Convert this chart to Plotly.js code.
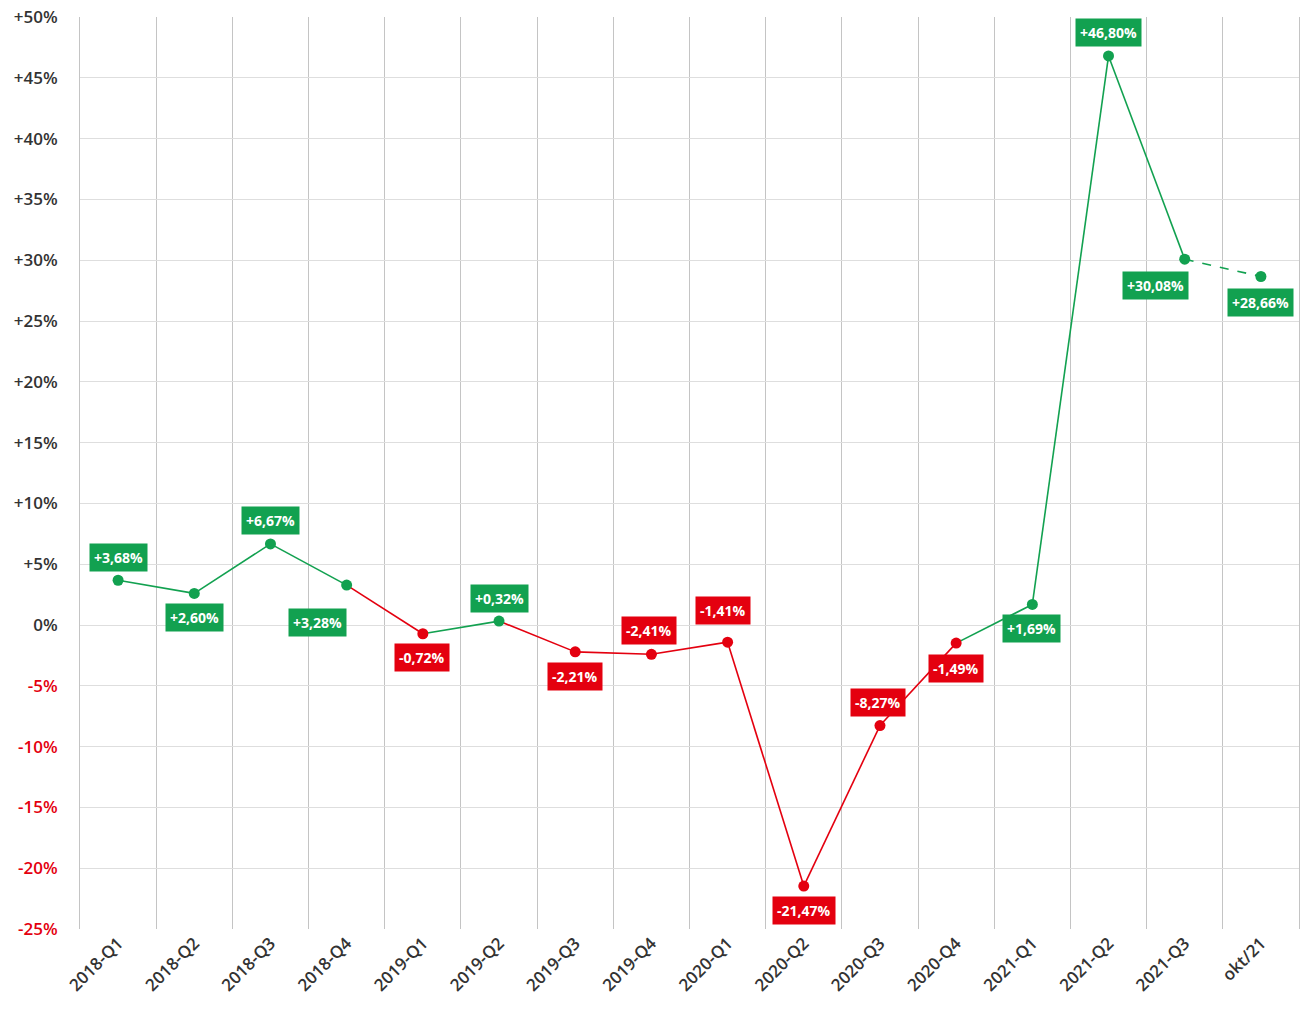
<!DOCTYPE html>
<html>
<head>
<meta charset="utf-8">
<script src="https://cdn.plot.ly/plotly-3.0.1.min.js"></script>
<style>html,body{margin:0;padding:0;background:#fff;}#chart{width:1301px;height:1012px;}</style>
</head>
<body>
<div id="chart"></div>
<script>
// ---- data ----
const periods = ["2018-Q1","2018-Q2","2018-Q3","2018-Q4","2019-Q1","2019-Q2","2019-Q3","2019-Q4","2020-Q1","2020-Q2","2020-Q3","2020-Q4","2021-Q1","2021-Q2","2021-Q3","okt/21"];
const changePct = [3.68, 2.60, 6.67, 3.28, -0.72, 0.32, -2.21, -2.41, -1.41, -21.47, -8.27, -1.49, 1.69, 46.80, 30.08, 28.66];
const partialPeriod = [false,false,false,false,false,false,false,false,false,false,false,false,false,false,false,true];
const yTickValues = [-25,-20,-15,-10,-5,0,5,10,15,20,25,30,35,40,45,50];

// ---- style ----
const GREEN = "#12a150";
const RED = "#e4000f";
const FONT = "Open Sans, sans-serif";
// label placement: [xshift, yshift] in px relative to each point
const labelShift = [[0,23],[0,-24],[0,23],[-29,-37],[-1,-24],[0,23],[0,-25],[-2,24],[-5,32],[0,-24],[-2,23],[0,-25],[-1,-24],[0,23],[-29,-26],[0,-26]];

const colorOf = v => v >= 0 ? GREEN : RED;
const fmt = v => (v > 0 ? "+" : (v < 0 ? "-" : "")) + Math.abs(v).toFixed(2).replace(".", ",") + "%";

const traces = [];
for (let i = 0; i < changePct.length - 1; i++) {
  traces.push({
    type: "scatter", mode: "lines",
    x: [periods[i], periods[i+1]],
    y: [changePct[i], changePct[i+1]],
    line: {color: colorOf(changePct[i+1]), width: 1.6, dash: partialPeriod[i+1] ? "dash" : "solid"},
    hoverinfo: "skip", showlegend: false
  });
}
traces.push({
  type: "scatter", mode: "markers",
  x: periods, y: changePct,
  marker: {size: 11, color: changePct.map(colorOf)},
  showlegend: false
});

const annotations = changePct.map((v, i) => ({
  x: periods[i], y: v, xref: "x", yref: "y",
  text: "<b>" + fmt(v) + "</b>",
  showarrow: false,
  xshift: labelShift[i][0], yshift: labelShift[i][1],
  bgcolor: colorOf(v),
  borderpad: 4,
  font: {family: FONT, size: 14, color: "#ffffff"}
}));

const yTickText = yTickValues.map(v => {
  const t = (v > 0 ? "+" : "") + v + "%";
  return v < 0 ? '<span style="color:' + RED + '">' + t + '</span>' : t;
});

const layout = {
  width: 1301, height: 1012,
  margin: {l: 80, r: 2, t: 17, b: 83},
  paper_bgcolor: "#ffffff", plot_bgcolor: "#ffffff",
  font: {family: FONT, color: "#333333"},
  showlegend: false,
  xaxis: {
    type: "category",
    categoryorder: "array", categoryarray: periods,
    tickson: "boundaries",
    showgrid: true, gridcolor: "#c4c4c4", gridwidth: 1,
    tickangle: -45,
    tickfont: {family: FONT, size: 17, color: "#333333", weight: 600},
    ticks: "", zeroline: false, showline: false,
    range: [-0.5, periods.length - 0.5]
  },
  yaxis: {
    range: [-25, 50],
    tickvals: yTickValues, ticktext: yTickText,
    showgrid: true, gridcolor: "#dedede", gridwidth: 1,
    zeroline: false,
    showline: true, mirror: true, linecolor: "#c4c4c4", linewidth: 1,
    ticks: "outside", ticklen: 18, tickcolor: "rgba(0,0,0,0)",
    tickfont: {family: FONT, size: 17, color: "#333333", weight: 600}
  },
  annotations: annotations
};

Plotly.newPlot("chart", traces, layout, {staticPlot: true, displayModeBar: false});
</script>
</body>
</html>
